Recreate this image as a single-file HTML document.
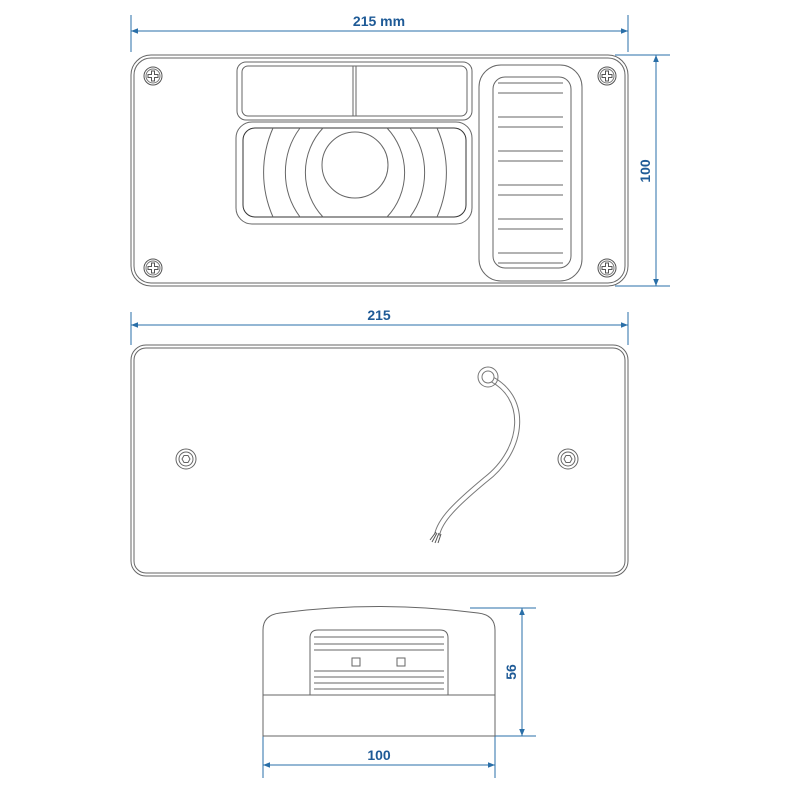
<!DOCTYPE html>
<html><head><meta charset="utf-8"><style>html,body{margin:0;padding:0;background:#fff}svg{display:block}</style></head>
<body>
<svg width="800" height="800" viewBox="0 0 800 800" xmlns="http://www.w3.org/2000/svg">
<defs>
<marker id="a" viewBox="0 0 10 10" refX="10" refY="5" markerWidth="10" markerHeight="7" orient="auto-start-reverse"><path d="M0,1 L10,5 L0,9 z" fill="#2a6fa8"/></marker>
<g id="scr"><circle r="9" fill="none" stroke="#555" stroke-width="1"/><circle r="7" fill="none" stroke="#777" stroke-width="1"/><path d="M-1.5,-5 h3 v3.5 h3.5 v3 h-3.5 v3.5 h-3 v-3.5 h-3.5 v-3 h3.5z" fill="none" stroke="#555" stroke-width="1"/></g>
<g id="nut"><circle r="10" fill="none" stroke="#666"/><circle r="7" fill="none" stroke="#666"/><polygon points="4,0 2,3.5 -2,3.5 -4,0 -2,-3.5 2,-3.5" fill="none" stroke="#666"/></g>
</defs>
<g stroke="#2a6fa8" stroke-width="1" fill="none">
<line x1="131" y1="15" x2="131" y2="52"/><line x1="628" y1="15" x2="628" y2="52"/>
<line x1="131" y1="31" x2="628" y2="31" marker-start="url(#a)" marker-end="url(#a)"/>
<line x1="615" y1="55" x2="670" y2="55"/><line x1="615" y1="286" x2="670" y2="286"/>
<line x1="656" y1="55" x2="656" y2="286" marker-start="url(#a)" marker-end="url(#a)"/>
<line x1="131" y1="312" x2="131" y2="345"/><line x1="628" y1="312" x2="628" y2="345"/>
<line x1="131" y1="325" x2="628" y2="325" marker-start="url(#a)" marker-end="url(#a)"/>
<line x1="470" y1="608" x2="536" y2="608"/><line x1="495" y1="736" x2="536" y2="736"/>
<line x1="522" y1="608" x2="522" y2="736" marker-start="url(#a)" marker-end="url(#a)"/>
<line x1="263" y1="736" x2="263" y2="778"/><line x1="495" y1="736" x2="495" y2="778"/>
<line x1="263" y1="765" x2="495" y2="765" marker-start="url(#a)" marker-end="url(#a)"/>
</g>
<g font-family="Liberation Sans, sans-serif" font-weight="bold" font-size="14" fill="#1e5a96" text-anchor="middle">
<text x="379" y="26">215 mm</text>
<text x="379" y="320">215</text>
<text x="379" y="760">100</text>
<text transform="translate(650,171) rotate(-90)">100</text>
<text transform="translate(516,672) rotate(-90)">56</text>
</g>
<g stroke="#666" stroke-width="1" fill="none">
<rect x="131" y="55" width="497" height="231" rx="20"/>
<rect x="134" y="58" width="491" height="225" rx="17"/>
<rect x="237" y="62" width="235" height="58" rx="9"/>
<rect x="242" y="66" width="225" height="50" rx="6"/>
<line x1="353" y1="66" x2="353" y2="116"/><line x1="356" y1="66" x2="356" y2="116"/>
<rect x="236" y="122" width="236" height="102" rx="16"/>
<rect x="243" y="128" width="223" height="89" rx="12" stroke="#333"/>
<circle cx="355" cy="165" r="33"/>
<path d="M323,128 A65,65 0 0 0 323,217 M387,128 A65,65 0 0 1 387,217"/>
<path d="M300,128 A75,75 0 0 0 300,217 M410,128 A75,75 0 0 1 410,217"/>
<path d="M273,128 A110,110 0 0 0 273,217 M437,128 A110,110 0 0 1 437,217"/>
<rect x="479" y="65" width="103" height="216" rx="22"/>
<rect x="493" y="77" width="78" height="191" rx="12"/>
<path d="M498,83h65M498,93h65M498,117h65M498,127h65M498,151h65M498,161h65M498,185h65M498,195h65M498,219h65M498,229h65M498,253h65M498,263h65"/>
<rect x="131" y="345" width="497" height="231" rx="15"/>
<rect x="134" y="348" width="491" height="225" rx="12"/>
<path d="M263,736 V630 Q263,615 280,613 Q379,600 478,613 Q495,615 495,630 V736 Z"/>
<line x1="263" y1="695" x2="495" y2="695"/>
<path d="M310,695 V638 Q310,630 318,630 H440 Q448,630 448,638 V695"/>
<path d="M314,637h130M314,644h130M314,650h130M314,671h130M314,677h130M314,683h130M314,689h130"/>
<rect x="352" y="658" width="8" height="8"/><rect x="397" y="658" width="8" height="8"/>
<path d="M487,377 C530,395 525,450 485,480 C455,505 440,520 437,535" stroke-width="6" stroke="#777"/>
<path d="M487,377 C530,395 525,450 485,480 C455,505 440,520 437,535" stroke-width="4" stroke="#fff"/>
<path d="M437,533 L432,542 M439,533 L435,543 M441,534 L438,543 M436,532 L430,540" stroke="#555"/>
</g>
<circle cx="488" cy="377" r="10" fill="none" stroke="#777" stroke-width="1"/>
<circle cx="488" cy="377" r="6" fill="#fff" stroke="#777" stroke-width="1"/>
<use href="#scr" x="153" y="76"/><use href="#scr" x="607" y="76"/>
<use href="#scr" x="153" y="268"/><use href="#scr" x="607" y="268"/>
<use href="#nut" x="186" y="459"/><use href="#nut" x="568" y="459"/>
</svg>
</body></html>
